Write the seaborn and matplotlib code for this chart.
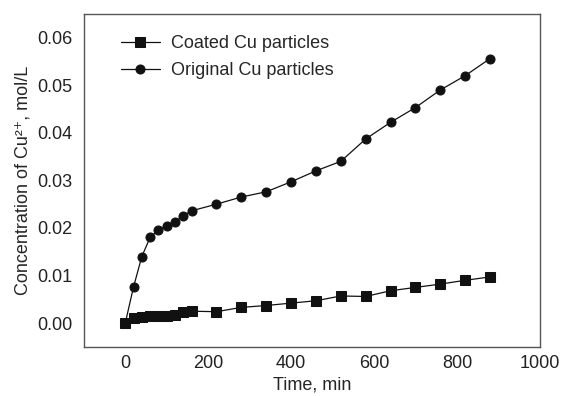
import seaborn as sns
import pandas as pd
import matplotlib.pyplot as plt

# time points, min
time = [0, 20, 40, 60, 80, 100, 120, 140, 160, 220, 280, 340, 400,
        460, 520, 580, 640, 700, 760, 820, 880]
# Cu2+ concentration, mol/L
coated = [0.0, 0.0011, 0.0013, 0.0014, 0.0014, 0.0015, 0.0017, 0.0024, 0.0025,
          0.0024, 0.0033, 0.0037, 0.0042, 0.0047, 0.0057, 0.0056, 0.0068,
          0.0075, 0.0082, 0.0090, 0.0097]
original = [0.0, 0.0076, 0.0140, 0.0180, 0.0196, 0.0204, 0.0213, 0.0226, 0.0236,
            0.0250, 0.0265, 0.0276, 0.0297, 0.0320, 0.0340, 0.0387, 0.0422,
            0.0453, 0.0490, 0.0520, 0.0556]

df = pd.DataFrame({
    "Time, min": time * 2,
    "conc": coated + original,
    "series": ["Coated Cu particles"] * len(time) + ["Original Cu particles"] * len(time),
})

sns.set_style("white")
plt.rcParams["font.family"] = ["Liberation Sans", "DejaVu Sans"]

fig, ax = plt.subplots(figsize=(5.7, 3.96), dpi=100)
sns.lineplot(data=df, x="Time, min", y="conc", hue="series", style="series",
             markers=["s", "o"], dashes=False, palette=["#111111", "#111111"],
             linewidth=0.9, markersize=6.5, markeredgecolor="#111111", ax=ax)

ax.set_xlim(-100, 1000)
ax.set_ylim(-0.005, 0.065)
ax.set_xticks([0, 200, 400, 600, 800, 1000])
ax.set_yticks([0.0, 0.01, 0.02, 0.03, 0.04, 0.05, 0.06])
ax.set_yticklabels(["0.00", "0.01", "0.02", "0.03", "0.04", "0.05", "0.06"])
ax.set_xlabel("Time, min", fontsize=13, labelpad=3)
ax.set_ylabel("Concentration of Cu²⁺, mol/L", fontsize=13, labelpad=4)
ax.tick_params(axis="both", labelsize=13, colors="#222222")
ax.tick_params(axis="y", direction="out", length=5, width=0.8, color="#555555", pad=3)
ax.tick_params(axis="x", direction="in", length=5, width=0.8, color="#555555", pad=6)
for s in ax.spines.values():
    s.set_color("#555555")
    s.set_linewidth(1.0)

leg = ax.legend(loc="upper left", frameon=False, fontsize=13, handlelength=2.2,
                bbox_to_anchor=(0.045, 0.985), labelspacing=0.55, handletextpad=0.6)

plt.subplots_adjust(left=0.147, right=0.947, top=0.965, bottom=0.124)
plt.savefig("out.png", dpi=100)
